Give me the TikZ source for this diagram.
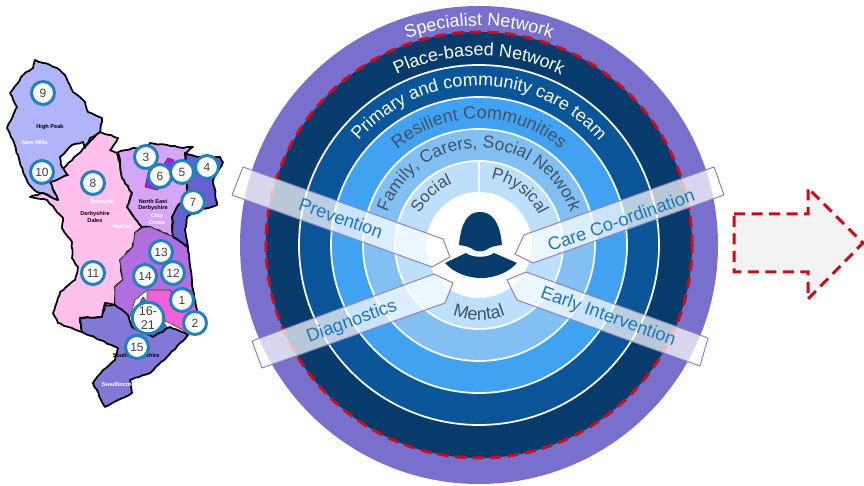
\documentclass[tikz,border=0pt]{standalone}
\usepackage{fontspec}
\setmainfont{Liberation Sans}
\usetikzlibrary{decorations.text,decorations.pathmorphing}

\definecolor{specialistpurple}{HTML}{7870CC}
\definecolor{placenavy}{HTML}{063B6C}
\definecolor{primaryblue}{HTML}{0A5598}
\definecolor{resilientblue}{HTML}{42A2F2}
\definecolor{familyblue}{HTML}{82C0F4}
\definecolor{socialblue}{HTML}{BEDFFA}
\definecolor{ringgrey}{HTML}{3F5268}
\definecolor{bandtext}{HTML}{2076B8}
\definecolor{bandedge}{HTML}{8A84C4}
\definecolor{dashred}{HTML}{C50F1F}
\definecolor{pinbell}{HTML}{2480BC}

\newcommand{\ringlabel}[6][10.2]{%
  \path[decorate,decoration={text along path,text align=center,
    text={|\fontsize{#1}{12}\selectfont\color{#5}|#6}}]
    (#3:#2) arc[start angle=#3,end angle=#4,radius=#2];}

\tikzset{
  region/.style={draw=black,line width=0.35mm,line join=round,decorate,decoration={random steps,segment length=2.2pt,amplitude=0.35pt}},
  thinregion/.style={draw=black!70,line width=0.15mm,line join=round},
  bandbox/.style={draw=bandedge,line width=0.2mm,fill=white,fill opacity=0.72,line join=round},
  ringdisc/.style={draw=white,line width=0.35mm},
  dashedge/.style={draw=dashred,line width=0.6mm,dash pattern=on 2.2mm off 1.3mm},
  bandlabel/.style={text=bandtext,font=\fontsize{10.4}{12}\selectfont,inner sep=0pt},
  maplabel/.style={font=\bfseries\fontsize{3.2}{3.8}\selectfont,align=center,inner sep=0pt},
}

\begin{document}
\begin{tikzpicture}[x=0.2mm,y=-0.2mm]
\useasboundingbox (0,0) rectangle (864,486);

% map
\fill[region,fill=pink!60!magenta!45] (100,132) -- (118,138) -- (110,150) -- (117,153) -- (120,163) -- (122,178) -- (132,193) -- (127,207) -- (142,227) -- (135,233) -- (133,247) -- (120,260) -- (123,280) -- (115,287) -- (115,305) -- (105,303) -- (102,317) -- (80,318) -- (82,332) -- (58,323) -- (53,313) -- (60,292) -- (75,280) -- (78,267) -- (72,258) -- (72,242) -- (62,228) -- (63,218) -- (47,200) -- (30,197) -- (43,193) -- (58,200) -- (50,182) -- cycle;
\fill[region,fill={rgb,255:red,178;green,180;blue,250}] (35,60) -- (43,63) -- (50,65) -- (57,68) -- (65,75) -- (73,92) -- (85,102) -- (88,112) -- (102,118) -- (100,132) -- (90,138) -- (85,148) -- (83,142) -- (72,145) -- (60,157) -- (62,167) -- (68,175) -- (50,182) -- (58,200) -- (43,193) -- (37,192) -- (28,183) -- (20,163) -- (13,140) -- (7,128) -- (17,107) -- (10,93) -- (23,75) -- (33,68) -- cycle;
\fill[region,fill={rgb,255:red,214;green,165;blue,245}] (118,152) -- (133,148) -- (145,150) -- (150,143) -- (167,145) -- (183,148) -- (193,147) -- (185,153) -- (187,180) -- (187,197) -- (177,207) -- (172,217) -- (173,237) -- (150,227) -- (142,227) -- (127,207) -- (132,193) -- (122,178) -- (120,163) -- cycle;
\fill[region,fill={rgb,255:red,106;green,95;blue,208}] (185,153) -- (200,157) -- (220,157) -- (223,162) -- (213,180) -- (217,205) -- (200,210) -- (187,217) -- (185,230) -- (188,247) -- (173,237) -- (172,217) -- (177,207) -- (187,197) -- (187,180) -- cycle;
\fill[thinregion,fill={rgb,255:red,160;green,32;blue,240}] (168,158) -- (174,160) -- (170,175) -- (167,183) -- (157,190) -- (145,187) -- (148,173) -- (160,170) -- cycle;
\fill[thinregion,fill={rgb,255:red,176;green,110;blue,224}] (142,228) -- (150,227) -- (173,237) -- (188,247) -- (190,265) -- (193,290) -- (177,300) -- (170,290) -- (147,290) -- (135,300) -- (130,317) -- (115,305) -- (115,287) -- (123,280) -- (120,260) -- (133,247) -- (135,233) -- cycle;
\fill[thinregion,fill={rgb,255:red,240;green,96;blue,216}] (147,290) -- (170,290) -- (177,300) -- (193,290) -- (197,310) -- (188,333) -- (170,323) -- (147,315) -- cycle;
\fill[thinregion,fill={rgb,255:red,63;green,111;blue,216}] (132,317) -- (143,297) -- (167,327) -- (160,338) -- (153,337) -- (132,327) -- cycle;
\fill[region,fill={rgb,255:red,130;green,120;blue,216}] (105,305) -- (115,305) -- (128,315) -- (132,327) -- (153,337) -- (170,327) -- (188,335) -- (167,357) -- (150,373) -- (130,380) -- (132,393) -- (105,407) -- (93,383) -- (103,370) -- (115,360) -- (118,348) -- (82,332) -- (80,318) -- (102,317) -- cycle;
\draw[region] (173,237) -- (188,247) -- (190,265) -- (193,290) -- (197,310) -- (188,333);

\node[maplabel] (highpeak) at (50,127) {High Peak};
\node[maplabel,text=white] (newmills) at (35,142) {New Mills};
\node[maplabel,text=white] (bakewell) at (102,201) {Bakewell};
\node[maplabel] (dales) at (95,217) {Derbyshire\\Dales};
\node[maplabel,text=white] (matlock) at (123,226) {Matlock};
\node[maplabel] (northeast) at (153,205) {North East\\Derbyshire};
\node[maplabel,text=white] (claycross) at (157,219) {Clay\\Cross};
\node[maplabel] (southderby) at (136,356) {South Derbyshire};
\node[maplabel,text=white] (swadlincote) at (118,384) {Swadlincote};

\begin{scope}[every node/.style={circle,draw=pinbell,line width=0.6mm,fill=white,inner sep=0pt,minimum size=4.6mm,text=black!75,font=\fontsize{6.8}{7.5}\selectfont,align=center}]
    \node (pin9) at (43,93) {9};
    \node (pin10) at (42,172) {10};
    \node (pin8) at (93,183) {8};
    \node (pin3) at (146,157) {3};
    \node (pin6) at (160,176) {6};
    \node (pin5) at (182,172) {5};
    \node (pin4) at (207,167) {4};
    \node (pin7) at (193,202) {7};
    \node (pin11) at (93,273) {11};
    \node (pin13) at (161,252) {13};
    \node (pin14) at (145,276) {14};
    \node (pin12) at (173,273) {12};
    \node (pin1) at (182,300) {1};
    \node (pin2) at (195,323) {2};
    \node[minimum size=6.3mm,font=\fontsize{7.2}{7.8}\selectfont] (pin16) at (148,318) {16-\\21};
    \node (pin15) at (137,347) {15};
\end{scope}

% rings
\begin{scope}[shift={(479,245)},y=0.2mm]
    \fill[specialistpurple] (0,0) circle (239);
    \fill[placenavy] (0,0) circle (213);
    \draw[dashedge] (0,0) circle (213);
    \draw[ringdisc,fill=primaryblue] (0,0) circle (180);
    \draw[ringdisc,fill=resilientblue] (0,0) circle (148);
    \draw[ringdisc,fill=familyblue] (0,0) circle (116);
    \draw[ringdisc,fill=socialblue] (0,0) circle (84);
    \fill[white] (0,0) circle (53);
    \draw[white,line width=0.35mm] (90:53) -- (90:84);

    \ringlabel{219}{160}{20}{white}{Specialist Network}
    \ringlabel{189}{160}{20}{white}{Place-based Network}
    \ringlabel{159}{170}{10}{white}{Primary and community care team}
    \ringlabel{126}{170}{10}{ringgrey}{Resilient Communities}
    \ringlabel[9.9]{97}{178}{2}{ringgrey}{Family, Carers, Social Network}
    \ringlabel[9.5]{67}{180}{86}{ringgrey}{Social}
    \ringlabel[9.5]{67}{100}{6}{ringgrey}{Physical}
    \ringlabel{75}{220}{320}{ringgrey}{Mental}
\end{scope}

% person
\fill[placenavy] (459,245) .. controls (461,222) and (468,212) .. (480,212) .. controls (492,212) and (500,222) .. (502,245) .. controls (494,246) and (490,247) .. (486,250) .. controls (482,252) and (478,252) .. (474,250) .. controls (470,247) and (466,246) .. (459,245) -- cycle;
\fill[placenavy] (445,263) -- (466,253) .. controls (472,258) and (488,258) .. (494,253) -- (517,263) .. controls (508,273) and (494,278) .. (481,278) .. controls (468,278) and (454,273) .. (445,263) -- cycle;

% bands
\fill[bandbox] (243,167) -- (443,239) -- (450,257) -- (432,267) -- (232,195) -- cycle;
\fill[bandbox] (714,167) -- (724,195) -- (533,263) -- (515,254) -- (524,235) -- cycle;
\fill[bandbox] (252,341) -- (434,274) -- (453,283) -- (445,303) -- (262,368) -- cycle;
\fill[bandbox] (708,338) -- (700,366) -- (517,300) -- (507,280) -- (526,272) -- cycle;
\node[bandlabel,rotate=-19.5] (prevention) at (341,218) {Prevention};
\node[bandlabel,rotate=19.5] (careco) at (621,220) {Care Co-ordination};
\node[bandlabel,rotate=20] (diagnostics) at (352,322) {Diagnostics};
\node[bandlabel,rotate=-20] (earlyint) at (608,317) {Early Intervention};

% arrow
\draw[dashedge,fill=black!5] (734,214) -- (808,214) -- (808,188) -- (863,243) -- (808,299) -- (808,272) -- (734,272) -- cycle;
\end{tikzpicture}
\end{document}
